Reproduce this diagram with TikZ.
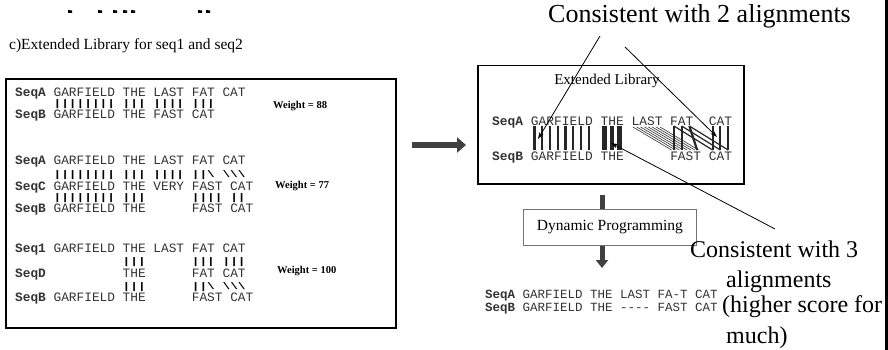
\documentclass[tikz,border=0pt]{standalone}
\usepackage{fontspec}
\usepackage{graphicx}
\setmainfont{Liberation Serif}
\setmonofont{Liberation Mono}
\usetikzlibrary{arrows.meta,calc}
\newcommand{\vb}[1]{\scalebox{1}[0.75]{#1}}
\newcommand{\bs}{\textbackslash}
\begin{document}
\begin{tikzpicture}[x=1pt,y=-1pt,
  seq/.style={anchor=base west, inner sep=0pt, font=\ttfamily\fontsize{12.8}{14}\selectfont, text=black!80},
  eseq/.style={anchor=base west, inner sep=0pt, font=\ttfamily\fontsize{12.9}{14}\selectfont, text=black!80},
  oseq/.style={anchor=base west, inner sep=0pt, font=\ttfamily\fontsize{12.5}{13}\selectfont, text=black!80},
  barrow/.style={anchor=base west, inner sep=0pt, font=\ttfamily\bfseries\fontsize{12.8}{14}\selectfont},
  wt/.style={anchor=base west, inner sep=0pt, font=\bfseries\fontsize{10.5}{12}\selectfont},
  ann/.style={anchor=base west, inner sep=0pt, font=\fontsize{24}{28}\selectfont},
  frame/.style={draw=black, line width=1.8pt, inner sep=0pt},
  bigarrow/.style={line width=6pt, draw=black!75, -{Triangle[length=9pt,width=15pt]}},
  bigbar/.style={line width=5pt, draw=black!75},
  bigdown/.style={line width=5pt, draw=black!75, -{Triangle[length=8pt,width=12pt]}},
  pointer/.style={-{Stealth[length=7pt,width=4.5pt]}, line width=0.8pt},
  vbar/.style={line width=2.2pt, draw=black!85},
  tbar/.style={line width=4.6pt, draw=black!85},
  hatch/.style={line width=0.6pt, draw=black!80},
]
\useasboundingbox[fill=white] (0,0) rectangle (888,350);

% clipped remains of a heading
\foreach \mx in {68,98,113,123,131,198,206}
  \fill (\mx,10) -- ++(4,0.5) -- ++(0,2.5) -- ++(-4,0) -- cycle;

% caption
\node[anchor=base west, inner sep=0pt, font=\fontsize{15.5}{17}\selectfont] (cap) at (9,50) {c)Extended Library for seq1 and seq2};

% left box
\node[frame, minimum width=390pt, minimum height=249pt, anchor=north west] (leftbox) at (5,78) {};

% group 1
\node[seq] (g1a) at (15,97) {\textbf{SeqA} GARFIELD THE LAST FAT CAT};
\node[barrow] (g1m) at (15,106.6) {\vb{~~~~~||||||||~|||~||||~|||}};
\node[seq] (g1b) at (15,118.3) {\textbf{SeqB} GARFIELD THE FAST CAT};
\node[wt] (w1) at (273,109) {Weight = 88};

% group 2
\node[seq] (g2a) at (15,164) {\textbf{SeqA} GARFIELD THE LAST FAT CAT};
\node[barrow] (g2m) at (15,177) {\vb{~~~~~||||||||~|||~||||~||\bs~\bs\bs\bs}};
\node[seq] (g2c) at (15,190) {\textbf{SeqC} GARFIELD THE VERY FAST CAT};
\node[barrow] (g2n) at (15,200.5) {\vb{~~~~~||||||||~|||~~~~~~||||~||}};
\node[seq] (g2b) at (15,212) {\textbf{SeqB} GARFIELD THE~~~~~~FAST CAT};
\node[wt] (w2) at (275,188) {Weight = 77};

% group 3
\node[seq] (g3a) at (15,252) {\textbf{Seq1} GARFIELD THE LAST FAT CAT};
\node[barrow] (g3m) at (15,264) {\vb{~~~~~~~~~~~~~~|||~~~~~~|||~|||}};
\node[seq] (g3d) at (15,277) {\textbf{SeqD}~~~~~~~~~~THE~~~~~~FAT~CAT};
\node[barrow] (g3n) at (15,289.5) {\vb{~~~~~~~~~~~~~~|||~~~~~~||\bs~\bs\bs\bs}};
\node[seq] (g3b) at (15,301) {\textbf{SeqB} GARFIELD THE~~~~~~FAST CAT};
\node[wt] (w3) at (277,273) {Weight = 100};

% big arrow to the right
\coordinate (a1) at (412,145);
\coordinate (a2) at (466,145);
\draw[bigarrow] (a1) -- (a2);

% extended library box
\node[frame, line width=1.5pt, minimum width=266pt, minimum height=118pt, anchor=north west] (ext) at (477,65) {};
\node[anchor=base, inner sep=0pt, font=\fontsize{15}{17}\selectfont] (elib) at (607,85) {Extended Library};
\node[eseq] (ea) at (492,125) {\textbf{SeqA} GARFIELD THE LAST FAT~~CAT};
\node[eseq] (eb) at (492,160) {\textbf{SeqB} GARFIELD THE~~~~~~FAST CAT};

\def\gx{530.7}\def\cw{7.74}
\foreach \i in {0,...,7}
  \draw[vbar] ({\gx+(\i+0.5)*\cw},126) -- ({\gx+(\i+0.5)*\cw},150);
\foreach \i in {9,10,11}
  \draw[tbar] ({\gx+(\i+0.5)*\cw},126) -- ({\gx+(\i+0.5)*\cw},150);
\foreach \i in {13,...,16} {
  \draw[hatch] ({\gx+(\i+0.2)*\cw},127) -- ({\gx+(\i+5.2)*\cw},150);
  \draw[hatch] ({\gx+(\i+0.7)*\cw},127) -- ({\gx+(\i+5.7)*\cw},150);
}
\foreach \i in {18,19}
  \draw[vbar] ({\gx+(\i+0.5)*\cw},126) -- ({\gx+(\i+0.5)*\cw},150);
\draw[vbar] ({\gx+20.5*\cw},126) -- ({\gx+21.5*\cw},150);
\foreach \i in {18,19,20}
  \draw[line width=1.2pt, draw=black!85] ({\gx+(\i+0.5)*\cw},126) -- ({\gx+(\i+5.5)*\cw},150);
\foreach \i in {23,24,25}
  \draw[vbar] ({\gx+(\i+0.5)*\cw},126) -- ({\gx+(\i+0.5)*\cw},150);

% dynamic programming
\node[draw=black!55, line width=0.8pt, minimum width=173pt, minimum height=36pt, anchor=north west, inner sep=0pt] (dp) at (523,209) {};
\node[inner sep=0pt, font=\fontsize{15.5}{17}\selectfont] (dpt) at (dp.center) {Dynamic Programming};
\coordinate (d1) at (602,195);
\coordinate (d2) at (602,268);
\draw[bigbar] (d1) -- (d1 |- dp.north);
\draw[bigdown] (dp.south -| d2) -- (d2);

% result
\node[oseq] (ra) at (485,298) {\textbf{SeqA} GARFIELD THE LAST FA-T CAT};
\node[oseq] (rb) at (485,311) {\textbf{SeqB} GARFIELD THE ---- FAST CAT};

% annotations
\node[ann, font=\fontsize{26}{28}\selectfont] (c2) at (548,23) {Consistent with 2 alignments};
\node[ann] (c3) at (690,257) {Consistent with 3};
\node[ann] (c3b) at (726,287) {alignments};
\node[ann] (c3c) at (722,312) {(higher score for};
\node[ann] (c3d) at (726,343) {much)};

\coordinate (p1s) at (600,36);
\coordinate (p1e) at (538,139);
\coordinate (p2s) at (625,47);
\coordinate (p2e) at (717,137);
\coordinate (p3s) at (775,229);
\coordinate (p3e) at (611,143);
\draw[pointer] (p1s) -- (p1e);
\draw[pointer] (p2s) -- (p2e);
\draw[pointer] (p3s) -- (p3e);

% right edge rule
\coordinate (r1) at (886.5,0);
\coordinate (r2) at (886.5,350);
\draw[line width=2.5pt] (r1) -- (r2);
\end{tikzpicture}
\end{document}
